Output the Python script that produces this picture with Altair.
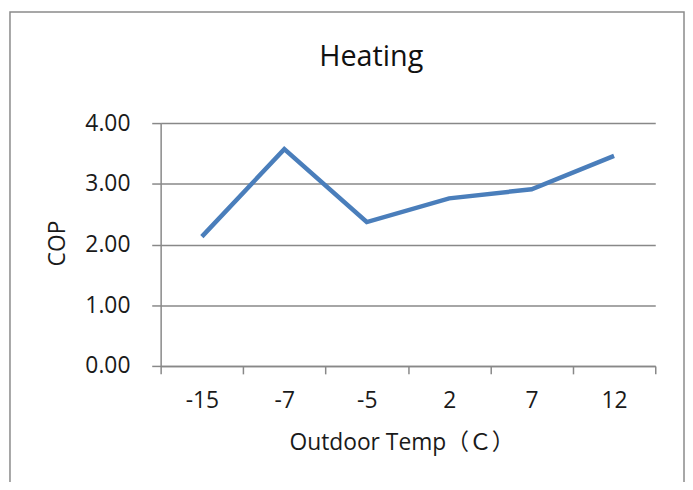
import altair as alt
import pandas as pd

temps = ["-15", "-7", "-5", "2", "7", "12"]
cop = [2.13, 3.57, 2.37, 2.76, 2.91, 3.46]

df = pd.DataFrame({"temp": temps, "cop": cop})

FONT = "Open Sans, Noto Sans CJK JP, sans-serif"
W, H = 499, 245
LEFT, TOP = 154, 114

line = alt.Chart(df).mark_line(
    color="#4A7EBB", strokeWidth=4.5, strokeJoin="miter"
).encode(
    x=alt.X(
        "temp:O",
        sort=temps,
        bandPosition=0.5,
        scale=alt.Scale(type="band", paddingInner=0, paddingOuter=0),
        axis=alt.Axis(
            title="Outdoor Temp（Ｃ）",
            labelAngle=0,
            tickBand="extent",
            tickSize=8,
            labelPadding=16,
            grid=False,
            titleX=243,
            titleY=84,
            titleAlign="center",
            titleBaseline="alphabetic",
        ),
    ),
    y=alt.Y(
        "cop:Q",
        scale=alt.Scale(domain=[0, 4]),
        axis=alt.Axis(
            title="COP",
            values=[0, 1, 2, 3, 4],
            format=".2f",
            tickSize=9,
            labelPadding=22,
            grid=True,
            titleX=-97,
            titleY=121,
            titleAlign="center",
            titleBaseline="alphabetic",
        ),
    ),
)

border = alt.Chart(alt.Data(values=[{}])).mark_rect(
    fill=None, stroke="#8a8a8a", strokeWidth=1.5
).encode(
    x=alt.value(10 - 8 - LEFT),
    x2=alt.value(690 - 8 - LEFT),
    y=alt.value(10 - 8 - TOP),
    y2=alt.value(420),
)

chart = alt.layer(border, line).properties(
    width=W,
    height=H,
    autosize=alt.AutoSizeParams(type="none"),
    padding={"left": LEFT, "top": TOP, "right": 30, "bottom": 115},
    title=alt.TitleParams(
        "Heating",
        fontSize=29,
        font=FONT,
        fontWeight="normal",
        color="#111111",
        anchor="middle",
        dx=-37,
        dy=84,
        baseline="alphabetic",
        offset=0,
    ),
).configure_view(stroke=None).configure_axis(
    labelFont=FONT,
    titleFont=FONT,
    labelFontSize=23,
    titleFontSize=23,
    titleFontWeight="normal",
    labelColor="#1a1a1a",
    titleColor="#1a1a1a",
    domainColor="#888888",
    tickColor="#888888",
    gridColor="#888888",
    domainWidth=1.5,
    tickWidth=1.5,
    gridWidth=1.5,
)

chart.save("out.html", embed_options={"renderer": "svg", "actions": False})
